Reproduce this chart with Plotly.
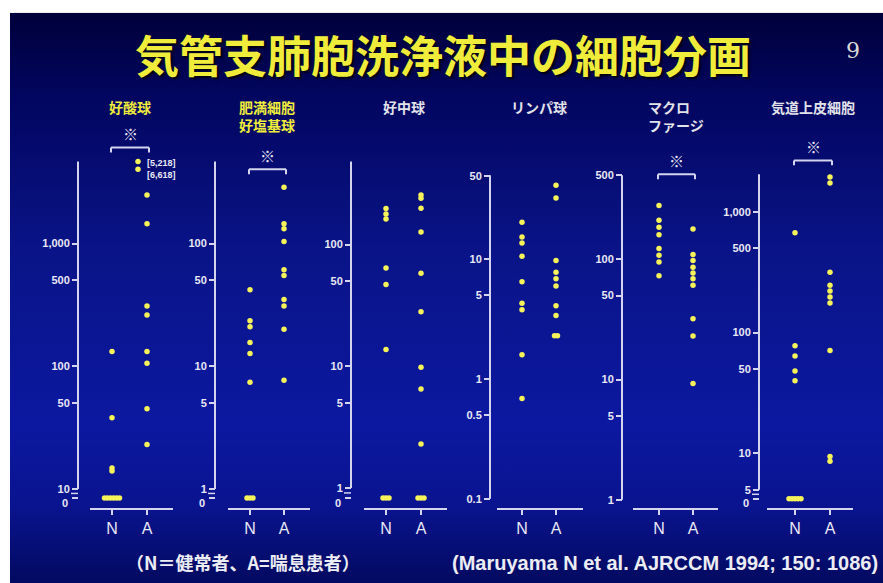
import base64
import numpy as np
import plotly.graph_objects as go

W, H = 883, 583

# ---------------- data ----------------
title_text = "気管支肺胞洗浄液中の細胞分画"
page_no = "9"
groups = ["N", "A"]
panel_titles = ["好酸球", "肥満細胞<br>好塩基球", "好中球", "リンパ球", "マクロ<br>ファージ", "気道上皮細胞"]
significant = [True, True, False, False, True, True]
sig_mark = "※"
zero_label = "0"

# cell counts per subject (0 = none detected)
eos_N = [0, 0, 0, 0, 0, 0, 14, 14.8, 38, 132]
eos_A = [2480, 1450, 310, 262, 132, 106, 45, 23]
eos_A_offscale = [5218, 6618]          # above the axis top

mast_N = [0, 0, 0, 7.4, 12.7, 15.6, 21, 23.5, 42]
mast_A = [7.7, 20, 31, 35, 55, 61, 104, 132, 145, 288]

neut_N = [0, 0, 0, 13.7, 47, 64, 162, 178, 198]
neut_A = [0, 0, 0, 2.3, 6.5, 9.8, 28, 58, 127, 199, 240, 255]

lymph_N = [0.69, 1.6, 3.8, 4.3, 6.5, 10.6, 13.7, 15.4, 20.4]
lymph_A = [2.3, 2.3, 3.4, 4.1, 6.0, 6.9, 7.8, 9.8, 32.5, 41.5]

macro_N = [73, 95, 108, 123, 160, 185, 211, 280]
macro_A = [9.3, 23, 32, 61, 69, 77, 86, 98, 110, 179]

epi_N = [0, 0, 0, 0, 0, 40, 48, 64, 78, 673]
epi_A = [8.6, 9.4, 71, 176, 197, 221, 247, 316, 1730, 1940]

eos_ticks = [10, 50, 100, 500, 1000]
eos_ticktext = ["10", "50", "100", "500", "1,000"]
mast_ticks = [1, 5, 10, 50, 100]
mast_ticktext = ["1", "5", "10", "50", "100"]
neut_ticks = [1, 5, 10, 50, 100]
neut_ticktext = ["1", "5", "10", "50", "100"]
lymph_ticks = [0.1, 0.5, 1, 5, 10, 50]
lymph_ticktext = ["0.1", "0.5", "1", "5", "10", "50"]
macro_ticks = [1, 5, 10, 50, 100, 500]
macro_ticktext = ["1", "5", "10", "50", "100", "500"]
epi_ticks = [5, 10, 50, 100, 500, 1000]
epi_ticktext = ["5", "10", "50", "100", "500", "1,000"]

legend_note = "（N＝健常者、A=喘息患者）"
citation = "(Maruyama N et al. AJRCCM 1994; 150: 1086)"

# ---------------- layout geometry (pixels) ----------------
X_BASE = 507  # x-axis baseline
frames = [
    dict(ax=78, top=157, ref=1000, ref_px=240, dec=124, xn=112, xa=147, xl=90, xr=173, brk=10, zero_px=497),
    dict(ax=215, top=157, ref=100, ref_px=240, dec=124, xn=250, xa=284, xl=228, xr=310, brk=1, zero_px=497),
    dict(ax=351, top=157, ref=100, ref_px=241, dec=123, xn=386, xa=421, xl=364, xr=447, brk=1, zero_px=497),
    dict(ax=490, top=171, ref=1, ref_px=377, dec=121, xn=522, xa=556, xl=497, xr=583, brk=None, zero_px=None),
    dict(ax=622, top=171, ref=100, ref_px=256, dec=121.5, xn=659, xa=693, xl=633, xr=718, brk=None, zero_px=None),
    dict(ax=759, top=170, ref=1000, ref_px=208, dec=122, xn=795, xa=830, xl=767, xr=853, brk=5, zero_px=498),
]
ZERO_LABEL_PX = 502
bracket_px = [143, 165, None, None, 170, 156]
title_yellow = [True, True, False, False, False, False]

series_N = [eos_N, mast_N, neut_N, lymph_N, macro_N, epi_N]
series_A = [eos_A, mast_A, neut_A, lymph_A, macro_A, epi_A]
tick_sets = [eos_ticks, mast_ticks, neut_ticks, lymph_ticks, macro_ticks, epi_ticks]
tick_texts = [eos_ticktext, mast_ticktext, neut_ticktext, lymph_ticktext, macro_ticktext, epi_ticktext]

# ---------------- styles ----------------
AXIS_COL = "#d4d4ee"
LABEL_COL = "#e8e8f4"
DOT_COL = "#f6f25a"
YELLOW = "#f0ec3c"
JP = "Noto Sans CJK JP"
LAT = "Liberation Sans"
DOT_STEP = 3.0   # px between coincident dots
TICK_SIZE = 11


def px(p):
    return p / W


def py(p):
    return 1 - p / H


def val_to_px(f, v):
    return f["ref_px"] + (np.log10(f["ref"]) - np.log10(v)) * f["dec"]


fig = go.Figure()
shapes, annotations = [], []

# background: dark navy slide with a smooth vertical gradient (inline SVG)
grad_stops = [(0.00, "#00003a"), (0.15, "#020660"), (0.42, "#0a1488"),
              (0.72, "#0c18a0"), (0.86, "#0a1490"), (1.00, "#020a60")]
stop_xml = "".join(f'<stop offset="{o}" stop-color="{c}"/>' for o, c in grad_stops)
svg = (f'<svg xmlns="http://www.w3.org/2000/svg" width="{W}" height="{H}" viewBox="0 0 {W} {H}">'
       f'<defs><linearGradient id="g" x1="0" y1="0" x2="0" y2="1">{stop_xml}</linearGradient></defs>'
       f'<rect x="10" y="7" width="{W - 10}" height="{H - 7}" fill="url(#g)"/></svg>')
bg_uri = "data:image/svg+xml;base64," + base64.b64encode(svg.encode()).decode()
fig.add_layout_image(dict(source=bg_uri, xref="paper", yref="paper", x=0, y=1, sizex=1, sizey=1,
                          xanchor="left", yanchor="top", sizing="stretch", layer="below"))


def line(x0, y0, x1, y1, w=2, col=AXIS_COL):
    shapes.append(dict(type="line", xref="paper", yref="paper", x0=px(x0), y0=py(y0),
                       x1=px(x1), y1=py(y1), line=dict(color=col, width=w)))


dot = dict(symbol="circle", size=5.5, color=DOT_COL, line=dict(width=0))

for i, f in enumerate(frames):
    k = "" if i == 0 else str(i + 1)
    unit = f["xa"] - f["xn"]
    xr = [1 - (f["xn"] - f["xl"]) / unit, 2 + (f["xr"] - f["xa"]) / unit]
    lr = np.log10(f["ref"])
    yr = [lr - (X_BASE - f["ref_px"]) / f["dec"], lr + (f["ref_px"] - f["top"]) / f["dec"]]
    zero_val = 10 ** (lr - (f["zero_px"] - f["ref_px"]) / f["dec"]) if f["zero_px"] else None

    for g, vals in ((1, series_N[i]), (2, series_A[i])):
        vals = np.asarray(vals, float)
        yplot = np.where(vals > 0, vals, zero_val if zero_val else np.nan)
        xoff = np.zeros(len(vals))
        for v in np.unique(vals):
            idx = np.where(vals == v)[0]
            xoff[idx] = (np.arange(len(idx)) - (len(idx) - 1) / 2) * DOT_STEP / unit
        fig.add_trace(go.Scatter(
            x=g + xoff, y=yplot, mode="markers", marker=dot,
            xaxis="x" + k, yaxis="y" + k, showlegend=False, hoverinfo="skip", cliponaxis=False))

    # values above the axis top, stacked at the top edge with their values listed
    if i == 0:
        top_val = 10 ** yr[1]
        off = np.sort(np.asarray(eos_A_offscale, float))
        shown = top_val * 10 ** (-(len(off) - 1 - np.arange(len(off))) * 8 / f["dec"])
        fig.add_trace(go.Scatter(
            x=2 - 9 / unit + np.zeros(len(off)), y=shown, mode="markers", marker=dot,
            xaxis="x" + k, yaxis="y" + k, showlegend=False, hoverinfo="skip", cliponaxis=False))
        annotations.append(dict(
            xref="paper", yref="paper", x=px(f["xa"] - 2), y=py(165), xanchor="left", yanchor="middle",
            text="<br>".join(f"[{int(v):,}]" for v in eos_A_offscale), showarrow=False, align="left",
            font=dict(family=LAT, size=9, color=LABEL_COL, weight="bold")))

    tv = list(tick_sets[i])
    tt = list(tick_texts[i])
    if zero_val:
        tv.append(zero_val)
        tt.append("")
        annotations.append(dict(
            xref="paper", yref="paper", x=px(f["ax"] - 8), y=py(ZERO_LABEL_PX), xanchor="right",
            yanchor="middle", text=zero_label, showarrow=False,
            font=dict(family=LAT, size=TICK_SIZE, color=LABEL_COL, weight="bold")))

    fig.layout[f"xaxis{k}"] = dict(
        domain=[px(f["xl"]), px(f["xr"])], range=xr, anchor="y" + k,
        showline=True, linecolor=AXIS_COL, linewidth=2, ticks="outside", ticklen=5,
        tickwidth=2, tickcolor=AXIS_COL, tickvals=[1, 2], ticktext=groups,
        tickfont=dict(family=LAT, size=16, color=LABEL_COL), showgrid=False, zeroline=False,
        fixedrange=True)
    fig.layout[f"yaxis{k}"] = dict(
        type="log", domain=[py(X_BASE), py(f["top"])], range=yr, anchor="free",
        position=px(f["ax"]), showline=False, ticks="outside", ticklen=6, tickwidth=2,
        tickcolor=AXIS_COL, tickvals=tv, ticktext=tt,
        tickfont=dict(family=LAT, size=TICK_SIZE, color=LABEL_COL, weight="bold"),
        showgrid=False, zeroline=False, fixedrange=True)

    # axis spine (broken above the zero level)
    bottom = val_to_px(f, f["brk"]) if f["brk"] else val_to_px(f, min(tick_sets[i]))
    line(f["ax"], f["top"], f["ax"], bottom)
    if f["brk"]:
        mid = (bottom + f["zero_px"]) / 2
        line(f["ax"] - 7, mid, f["ax"], mid, w=1.5)

    # panel title
    two = "<br>" in panel_titles[i]
    annotations.append(dict(
        xref="paper", yref="paper", x=px((f["xn"] + f["xa"]) / 2), y=py(111 if two else 102),
        xanchor="center", yanchor="middle", text=panel_titles[i], showarrow=False,
        align="left", font=dict(family=JP, size=14, weight="bold",
                                color=YELLOW if title_yellow[i] else "#e2e2ea")))

    # significance bracket
    if significant[i]:
        b = bracket_px[i]
        x0, x1 = f["xn"] - 1, f["xa"] + 2
        line(x0, b, x1, b)
        line(x0, b, x0, b + 5)
        line(x1, b, x1, b + 5)
        annotations.append(dict(
            xref="paper", yref="paper", x=px((x0 + x1) / 2), y=py(b - 14), xanchor="center",
            yanchor="middle", text=sig_mark, showarrow=False,
            font=dict(family=JP, size=15, color="#e4e4f0")))

annotations += [
    dict(xref="paper", yref="paper", x=px(443), y=py(48), xanchor="center", yanchor="middle",
         text=title_text, showarrow=False,
         font=dict(family=JP, size=44, weight="bold", color=YELLOW, shadow="2px 2px 2px #000010")),
    dict(xref="paper", yref="paper", x=px(853), y=py(45), xanchor="center", yanchor="middle",
         text=page_no, showarrow=False, font=dict(family="DejaVu Serif", size=22, color="#d8d8d8")),
    dict(xref="paper", yref="paper", x=px(243), y=py(562), xanchor="center", yanchor="middle",
         text=legend_note, showarrow=False,
         font=dict(family=JP, size=18, weight="bold", color="#ececf4")),
    dict(xref="paper", yref="paper", x=px(665), y=py(563), xanchor="center", yanchor="middle",
         text=citation, showarrow=False,
         font=dict(family=LAT, size=20, weight="bold", color="#ececf4")),
]

fig.update_layout(
    width=W, height=H, margin=dict(l=0, r=0, t=0, b=0),
    paper_bgcolor="white", plot_bgcolor="rgba(0,0,0,0)",
    shapes=shapes, annotations=annotations, showlegend=False,
)

fig.write_html("out.html")
